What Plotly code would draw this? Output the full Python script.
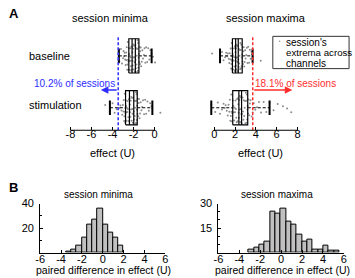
import plotly.graph_objects as go

# ---------------- data ----------------
rows = ["baseline", "stimulation"]
row_pos = [2, 1]

# session minima (panel A left)
min_baseline_pts = [-3.42, -3.35, -3.2, -3.1, -3.0, -2.95, -2.9, -2.85, -2.8, -2.75, -2.7, -2.68, -2.65, -2.6,
                    -2.58, -2.55, -2.52, -2.5, -2.48, -2.46,
                    -2.44, -2.42, -2.4, -2.38, -2.35, -2.32, -2.3, -2.28, -2.25, -2.22, -2.2, -2.18, -2.15, -2.12,
                    -2.1, -2.08, -2.05, -2.02, -2.0, -1.98, -1.95, -1.92, -1.9, -1.88, -1.85, -1.82, -1.8, -1.78,
                    -1.75, -1.72, -1.7, -1.68, -1.65, -1.62, -1.6, -1.58, -1.56, -1.54, -1.52, -1.5,
                    -1.47, -1.44, -1.4, -1.36, -1.32, -1.28, -1.22, -1.16, -1.1, -1.02, -0.95, -0.88, -0.8, -0.7,
                    -0.6, -0.5, -0.4, -0.3, -0.15, 0.05]
min_stim_pts = [-4.7, -4.25, -4.0, -3.8, -3.6, -3.45, -3.35, -3.25, -3.15, -3.08, -3.02, -2.97, -2.93, -2.9,
                -2.87, -2.84, -2.82, -2.8, -2.78, -2.77,
                -2.75, -2.72, -2.7, -2.67, -2.64, -2.6, -2.57, -2.54, -2.5, -2.47, -2.44, -2.41, -2.38, -2.35,
                -2.32, -2.3, -2.27, -2.24, -2.21, -2.18, -2.15, -2.12, -2.1, -2.07, -2.04, -2.01, -1.98, -1.95,
                -1.92, -1.89, -1.86, -1.83, -1.8, -1.77, -1.75, -1.73, -1.71, -1.69, -1.67, -1.66,
                -1.63, -1.6, -1.56, -1.52, -1.48, -1.43, -1.38, -1.32, -1.25, -1.18, -1.1, -1.0, -0.9, -0.8,
                -0.68, -0.55, -0.42, -0.3, -0.21, 0.55]
# box statistics: [baseline, stimulation]
min_q1 = [-2.45, -2.76]
min_median = [-2.14, -2.39]
min_mean = [-1.83, -1.98]
min_q3 = [-1.49, -1.65]
min_lo = [-3.40, -4.25]
min_hi = [-0.28, -0.21]
min_threshold = -3.46
min_pct_label = "10.2% of sessions"

# session maxima (panel A right)
max_baseline_pts = [-0.2, 0.56, 0.75, 0.9, 1.05, 1.15, 1.25, 1.32, 1.4, 1.45, 1.5, 1.54, 1.58, 1.62, 1.65, 1.68,
                    1.7, 1.72, 1.73, 1.74,
                    1.76, 1.78, 1.8, 1.83, 1.85, 1.87, 1.9, 1.92, 1.94, 1.96, 1.98, 2.0, 2.02, 2.04, 2.06, 2.08,
                    2.1, 2.12, 2.14, 2.16, 2.18, 2.2, 2.22, 2.25, 2.27, 2.3, 2.32, 2.35, 2.37, 2.4, 2.43, 2.46,
                    2.49, 2.52, 2.55, 2.58, 2.61, 2.64, 2.66, 2.68,
                    2.71, 2.74, 2.77, 2.8, 2.84, 2.88, 2.92, 2.97, 3.02, 3.08, 3.14, 3.2, 3.27, 3.35, 3.42, 3.5,
                    3.58, 3.64, 3.69, 4.47]
max_stim_pts = [-0.28, 0.1, 0.35, 0.55, 0.75, 0.9, 1.0, 1.1, 1.2, 1.3, 1.38, 1.45, 1.5, 1.55, 1.6, 1.64, 1.67,
                1.7, 1.72, 1.76,
                1.8, 1.84, 1.88, 1.92, 1.96, 2.0, 2.04, 2.08, 2.12, 2.16, 2.2, 2.24, 2.28, 2.32, 2.35, 2.38,
                2.41, 2.44, 2.47, 2.5, 2.53, 2.56, 2.6, 2.64, 2.68, 2.72, 2.76, 2.8, 2.84, 2.88, 2.92, 2.96,
                3.0, 3.04, 3.08, 3.11, 3.14, 3.17, 3.2, 3.21,
                3.25, 3.3, 3.36, 3.42, 3.5, 3.6, 3.7, 3.8, 3.95, 4.1, 4.3, 4.5, 4.75, 5.0, 5.32, 5.7, 6.1, 6.6,
                7.0, 7.4]
max_q1 = [1.75, 1.78]
max_median = [2.06, 2.37]
max_mean = [2.31, 2.63]
max_q3 = [2.69, 3.22]
max_lo = [0.56, -0.28]
max_hi = [3.69, 5.32]
max_threshold = 3.70
max_pct_label = "18.1% of sessions"

# panel B histograms: paired difference in effect (U)
hist_min_start = -3.5
hist_min_width = 0.5
hist_min_counts = [1, 2, 6, 12, 23, 27, 36, 23, 16, 12, 6]
hist_max_start = -3.1
hist_max_width = 0.51
hist_max_counts = [2, 3, 5, 7, 25, 24, 27, 19, 17, 11, 7, 8, 2, 2, 4, 1, 1]

# ---------------- figure ----------------
W, H = 355, 278
FONT = "Liberation Sans, Arial, sans-serif"
BLUE = "rgb(45,45,255)"
RED = "rgb(255,45,45)"
PT = "rgb(140,140,140)"


def px(x):
    return x / W


def py(y):
    return 1 - y / H


fig = go.Figure()

BOX_H = 0.33
CAP_H = 0.14
YR = [0.566, 2.49]


def add_panel(xa, ya, pts_list, q1, med, mean, q3, lo, hi):
    for pts, yp in zip(pts_list, row_pos):
        fig.add_trace(go.Box(x=pts, y0=yp, orientation="h", boxpoints="all", jitter=1, pointpos=0,
                             width=2 * BOX_H, line=dict(color="rgba(0,0,0,0)", width=0),
                             fillcolor="rgba(0,0,0,0)", marker=dict(color=PT, size=2),
                             xaxis=xa, yaxis=ya, showlegend=False, hoverinfo="skip"))
    for i, yp in enumerate(row_pos):
        lw = dict(color="black", width=1.2)
        fig.add_trace(go.Scatter(x=[q1[i], q3[i], q3[i], q1[i], q1[i]],
                                 y=[yp - BOX_H, yp - BOX_H, yp + BOX_H, yp + BOX_H, yp - BOX_H],
                                 mode="lines", line=lw, xaxis=xa, yaxis=ya, showlegend=False,
                                 cliponaxis=False))
        for v in (med[i], mean[i]):
            fig.add_trace(go.Scatter(x=[v, v], y=[yp - BOX_H, yp + BOX_H], mode="lines", line=lw,
                                     xaxis=xa, yaxis=ya, showlegend=False, cliponaxis=False))
        for a, b in ((lo[i], q1[i]), (q3[i], hi[i])):
            fig.add_trace(go.Scatter(x=[a, b], y=[yp, yp], mode="lines",
                                     line=dict(color="black", width=1, dash="3px,2px"),
                                     xaxis=xa, yaxis=ya, showlegend=False, cliponaxis=False))
        for v in (lo[i], hi[i]):
            fig.add_trace(go.Scatter(x=[v, v], y=[yp - CAP_H, yp + CAP_H], mode="lines",
                                     line=dict(color="black", width=2),
                                     xaxis=xa, yaxis=ya, showlegend=False, cliponaxis=False))


add_panel("x", "y", [min_baseline_pts, min_stim_pts], min_q1, min_median, min_mean, min_q3, min_lo, min_hi)
add_panel("x2", "y2", [max_baseline_pts, max_stim_pts], max_q1, max_median, max_mean, max_q3, max_lo, max_hi)

# threshold lines
LINE_TOP = 2.36
fig.add_trace(go.Scatter(x=[min_threshold, min_threshold], y=[YR[0], LINE_TOP], mode="lines",
                         line=dict(color=BLUE, width=1.5, dash="3px,2px"), xaxis="x", yaxis="y",
                         showlegend=False, cliponaxis=False))
fig.add_trace(go.Scatter(x=[max_threshold, max_threshold], y=[YR[0], LINE_TOP], mode="lines",
                         line=dict(color=RED, width=1.5, dash="3px,2px"), xaxis="x2", yaxis="y2",
                         showlegend=False, cliponaxis=False))

# histograms
min_centers = [hist_min_start + hist_min_width * (i + 0.5) for i in range(len(hist_min_counts))]
max_centers = [hist_max_start + hist_max_width * (i + 0.5) for i in range(len(hist_max_counts))]
fig.add_trace(go.Bar(x=min_centers, y=hist_min_counts, width=hist_min_width, xaxis="x3", yaxis="y3",
                     marker=dict(color="rgb(192,192,192)", line=dict(color="black", width=1)),
                     showlegend=False))
fig.add_trace(go.Bar(x=max_centers, y=hist_max_counts, width=hist_max_width, xaxis="x4", yaxis="y4",
                     marker=dict(color="rgb(192,192,192)", line=dict(color="black", width=1)),
                     showlegend=False))

tickfont = dict(family=FONT, size=11, color="black")
A_ydom = [py(127), py(25)]
B_ydom = [py(252), py(202)]

common_x = dict(showgrid=False, zeroline=False, ticks="inside", ticklen=3, tickcolor="black",
                tickfont=tickfont, ticklabelstandoff=-4)
common_y = dict(showline=True, linecolor="black", linewidth=1, showgrid=False, zeroline=False,
                ticks="inside", ticklen=3, tickcolor="black", tickfont=tickfont, ticklabelstandoff=3)
fig.update_layout(
    width=W, height=H, margin=dict(l=0, r=0, t=0, b=0),
    paper_bgcolor="white", plot_bgcolor="rgba(0,0,0,0)",
    font=dict(family=FONT, color="black"),
    bargap=0,
    xaxis=dict(domain=[px(60.55), px(162.7)], range=[-8.6, 0.9], tickvals=[-8, -6, -4, -2, 0],
               ticktext=["-8", "-6", "-4", "-2", "0"], showline=False, anchor="y", **common_x),
    yaxis=dict(domain=A_ydom, range=YR, visible=False, anchor="x"),
    xaxis2=dict(domain=[px(205.5), px(303.5)], range=[-0.8, 8.4], tickvals=[0, 2, 4, 6, 8],
                showline=False, anchor="y2", **common_x),
    yaxis2=dict(domain=A_ydom, range=YR, visible=False, anchor="x2"),
    xaxis3=dict(domain=[px(36), px(164)], range=[-6, 6], tickvals=[-6, -4, -2, 0, 2, 4, 6],
                ticktext=["-6", "-4", "-2", "0", "2", "4", "6"], showline=True, linecolor="black",
                linewidth=1, anchor="y3", **common_x),
    yaxis3=dict(domain=B_ydom, range=[0, 40], tickvals=[20, 40], anchor="x3",
                minor=dict(ticks="inside", ticklen=2, tickcolor="black", dtick=10), **common_y),
    xaxis4=dict(domain=[px(218.3), px(346.7)], range=[-6, 6], tickvals=[-6, -4, -2, 0, 2, 4, 6],
                ticktext=["-6", "-4", "-2", "0", "2", "4", "6"], showline=True, linecolor="black",
                linewidth=1, anchor="y4", **common_x),
    yaxis4=dict(domain=B_ydom, range=[0, 30], tickvals=[15, 30], anchor="x4",
                minor=dict(ticks="inside", ticklen=2, tickcolor="black", dtick=5), **common_y),
)

# axis lines for panel A (span only the labelled range)
fig.add_shape(type="line", xref="x", yref="paper", x0=-8, x1=0, y0=A_ydom[0], y1=A_ydom[0],
              line=dict(color="black", width=1))
fig.add_shape(type="line", xref="x2", yref="paper", x0=0, x1=8, y0=A_ydom[0], y1=A_ydom[0],
              line=dict(color="black", width=1))

# legend box
fig.add_shape(type="rect", xref="paper", yref="paper", x0=px(274), x1=px(352), y0=py(64), y1=py(31),
              line=dict(color="#333", width=1))
fig.add_shape(type="circle", xref="paper", yref="paper", x0=px(280.3), x1=px(281.7), y0=py(36.7),
              y1=py(35.3), line=dict(width=0), fillcolor=PT)

ann = []


def txt(x, y, s, size=11, xa="center", bold=False, color="black"):
    ann.append(dict(x=px(x), y=py(y), xref="paper", yref="paper", text=f"<b>{s}</b>" if bold else s,
                    showarrow=False, xanchor=xa, yanchor="middle",
                    font=dict(family=FONT, size=size, color=color)))


txt(2, 8, "A", size=13, xa="left", bold=True)
txt(2, 185, "B", size=13, xa="left", bold=True)
txt(108, 12, "session minima")
txt(267, 12, "session maxima")
txt(23, 51, rows[0], xa="left")
txt(23, 101, rows[1], xa="left")
txt(109.5, 150, "effect (U)")
txt(261.7, 150, "effect (U)")
txt(96, 193, "session minima", size=10)
txt(278.5, 193, "session maxima", size=10)
txt(100.7, 270, "paired difference in effect (U)", size=10.5)
txt(284, 270, "paired difference in effect (U)", size=10.5)
txt(285, 37, "session's", size=10, xa="left")
txt(285, 48, "extrema across", size=9.7, xa="left")
txt(285, 59, "channels", size=10, xa="left")

TXT_Y = 1.47
ARR_Y = 1.34
ann.append(dict(x=min_threshold - 0.1, y=TXT_Y, xref="x", yref="y", text=min_pct_label, showarrow=False,
                xanchor="right", yanchor="middle", font=dict(family=FONT, size=10, color=BLUE)))
ann.append(dict(x=min_threshold - 1.65, y=ARR_Y, xref="x", yref="y", ax=min_threshold, ay=ARR_Y,
                axref="x", ayref="y", text="", showarrow=True, arrowhead=2, arrowsize=1, arrowwidth=1.5,
                arrowcolor=BLUE))
ann.append(dict(x=max_threshold + 0.05, y=TXT_Y, xref="x2", yref="y2", text=max_pct_label, showarrow=False,
                xanchor="left", yanchor="middle", font=dict(family=FONT, size=10, color=RED)))
ann.append(dict(x=max_threshold + 3.8, y=ARR_Y, xref="x2", yref="y2", ax=max_threshold, ay=ARR_Y,
                axref="x2", ayref="y2", text="", showarrow=True, arrowhead=2, arrowsize=1, arrowwidth=1.5,
                arrowcolor=RED))
fig.update_layout(annotations=ann)

fig.write_html("out.html", config={"displayModeBar": False},
               post_script="document.body.style.margin='0px';document.body.style.padding='0px';")
